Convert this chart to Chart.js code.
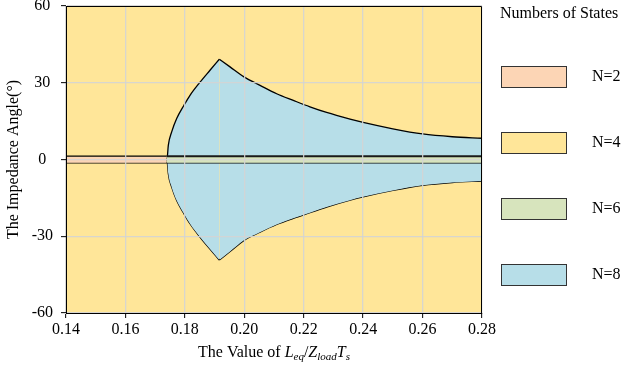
<!DOCTYPE html>
<html><head><meta charset="utf-8">
<script src="https://cdn.jsdelivr.net/npm/chart.js@4/dist/chart.umd.min.js"></script>
<style>html,body{margin:0;padding:0;background:#fff;}</style>
</head><body>
<canvas id="c" width="629" height="368"></canvas>
<script>
// ---- data ----
const xTicks = [0.14, 0.16, 0.18, 0.20, 0.22, 0.24, 0.26, 0.28];
const yTicks = [-60, -30, 0, 30, 60];
const stateLabels = ['N=2', 'N=4', 'N=6', 'N=8'];
const stateColors = ['#FCD5B5', '#FFE699', '#D7E4BD', '#B7DEE8'];
const legendTitle = 'Numbers of States';

// N=8 boundary, rising part (up to the cusp)
const n8RiseX     = [0.1739, 0.1741, 0.17443, 0.17557, 0.17725, 0.17971, 0.18173, 0.18487, 0.18846, 0.1916];
const n8RiseUpper = [0.0,    1.0,    5.5,     10.8,    16.0,    21.2,    25.1,    29.9,    34.9,    39.2];
const n8RiseLower = [0.0,   -1.0,   -5.5,    -10.8,   -16.0,   -21.2,   -25.1,   -30.0,   -35.0,   -39.3];
// N=8 boundary, decaying part (after the cusp)
const n8FallX     = [0.1916, 0.1952, 0.1999, 0.2053, 0.2109, 0.2165, 0.2221, 0.2277, 0.2356, 0.2400, 0.2500, 0.2600, 0.2700, 0.2800];
const n8FallUpper = [39.2,   36.2,   32.3,   29.0,   25.7,   23.1,   20.6,   18.4,   15.8,   14.5,   12.0,   10.0,   8.9,    8.3];
const n8FallLower = [-39.3, -36.0,  -31.6,  -28.4,  -25.4,  -23.0,  -20.8,  -18.6,  -15.9,  -14.6,  -12.1,  -10.1,  -9.0,   -8.4];

// thin strip around 0 deg: N=2 on the left, N=6 on the right
const n2X = [0.14, 0.1739];
const n6X = [0.1739, 0.28];
const stripTop = [1.3, 1.3];
const stripBottom = [-1.3, -1.3];

// N=4 fills the rest of the plane
const n4X = [0.14, 0.28];
const n4Top = [60, 60];

const xTitleParts = [
  {t: 'The Value of ', it: false, sub: false},
  {t: 'L', it: true, sub: false},
  {t: 'eq', it: true, sub: true},
  {t: '/', it: false, sub: false},
  {t: 'Z', it: true, sub: false},
  {t: 'load', it: true, sub: true},
  {t: 'T', it: true, sub: false},
  {t: 's', it: true, sub: true}
];

const FONT = "'Liberation Serif', 'Times New Roman', serif";
const pts = (xs, ys) => xs.map((x, i) => ({x: x, y: ys[i]}));

const overlay = {
  id: 'overlay',
  afterDraw(chart) {
    const {ctx, chartArea: a} = chart;
    ctx.save();
    ctx.strokeStyle = '#000';
    ctx.lineWidth = 1;
    ctx.beginPath();
    ctx.moveTo(a.left, a.top + 0.5);
    ctx.lineTo(a.right - 0.5, a.top + 0.5);
    ctx.lineTo(a.right - 0.5, a.bottom);
    ctx.stroke();

    const mainSize = 16, subSize = 11;
    const fontFor = p => (p.it ? 'italic ' : '') + (p.sub ? subSize : mainSize) + 'px ' + FONT;
    let total = 0;
    xTitleParts.forEach(p => { ctx.font = fontFor(p); total += ctx.measureText(p.t).width; });
    let x = (a.left + a.right) / 2 - total / 2;
    const baseY = 357;
    ctx.fillStyle = '#000';
    ctx.textBaseline = 'alphabetic';
    ctx.textAlign = 'left';
    xTitleParts.forEach(p => {
      ctx.font = fontFor(p);
      ctx.fillText(p.t, x, baseY + (p.sub ? 3 : 0));
      x += ctx.measureText(p.t).width;
    });

    ctx.font = '16px ' + FONT;
    ctx.textBaseline = 'middle';
    ctx.fillText(legendTitle, 500, 14);
    stateLabels.forEach((lab, i) => {
      const top = 66 + i * 66;
      ctx.fillStyle = stateColors[i];
      ctx.fillRect(501, top, 65, 21);
      ctx.strokeStyle = '#333';
      ctx.lineWidth = 1;
      ctx.strokeRect(501.5, top + 0.5, 65, 21);
      ctx.fillStyle = '#000';
      ctx.fillText(lab, 592, top + 11);
    });
    ctx.restore();
  }
};

const gridOpts = {z: 1, color: 'rgba(212,212,212,0.9)', lineWidth: 1.3, tickLength: 5, tickColor: '#000', tickWidth: 1};
const curve = {cubicInterpolationMode: 'monotone', borderColor: '#000', borderWidth: 1.3};

new Chart(document.getElementById('c'), {
  type: 'line',
  data: {
    datasets: [
      {label: 'N=6 top', data: pts(n6X, stripTop), fill: '+1', backgroundColor: stateColors[2], borderColor: '#1a1a1a', borderWidth: 2, order: 0},
      {label: 'N=6 bottom', data: pts(n6X, stripBottom), fill: false, borderColor: '#000', borderWidth: 1.2, order: 0},
      {label: 'N=2 top', data: pts(n2X, stripTop), fill: '+1', backgroundColor: stateColors[0], borderColor: '#000', borderWidth: 1.2, order: 0},
      {label: 'N=2 bottom', data: pts(n2X, stripBottom), fill: false, borderColor: '#000', borderWidth: 1.2, order: 0},
      Object.assign({label: 'N=8 rise upper', data: pts(n8RiseX, n8RiseUpper), fill: '+1', backgroundColor: stateColors[3], order: 1}, curve),
      Object.assign({label: 'N=8 rise lower', data: pts(n8RiseX, n8RiseLower), fill: false, order: 1}, curve),
      Object.assign({label: 'N=8 fall upper', data: pts(n8FallX, n8FallUpper), fill: '+1', backgroundColor: stateColors[3], order: 1}, curve),
      Object.assign({label: 'N=8 fall lower', data: pts(n8FallX, n8FallLower), fill: false, order: 1}, curve),
      {label: 'N=4', data: pts(n4X, n4Top), fill: {value: -60}, backgroundColor: stateColors[1], borderWidth: 0, borderColor: 'rgba(0,0,0,0)', order: 2}
    ]
  },
  options: {
    responsive: false,
    animation: false,
    devicePixelRatio: 1,
    layout: {padding: {top: 6, right: 147, left: 0, bottom: 0}},
    plugins: {legend: {display: false}, tooltip: {enabled: false}},
    elements: {point: {radius: 0, hoverRadius: 0}, line: {tension: 0}},
    scales: {
      x: {
        type: 'linear', min: 0.14, max: 0.28,
        afterBuildTicks: s => { s.ticks = xTicks.map(v => ({value: v})); },
        afterFit: s => { s.height = 55; s.paddingLeft = 0; s.paddingRight = 0; },
        grid: gridOpts,
        border: {color: '#000', width: 1, z: 2},
        ticks: {font: {family: FONT, size: 16}, color: '#000', padding: 2, maxRotation: 0, autoSkip: false,
                callback: v => Number(v).toFixed(2)}
      },
      y: {
        type: 'linear', min: -60, max: 60,
        afterBuildTicks: s => { s.ticks = yTicks.map(v => ({value: v})); },
        afterFit: s => { s.width = 66; s.paddingTop = 0; s.paddingBottom = 0; },
        grid: gridOpts,
        border: {color: '#000', width: 1, z: 2},
        ticks: {font: {family: FONT, size: 16}, color: '#000', padding: 8, crossAlign: 'center', autoSkip: false},
        title: {display: true, text: 'The Impedance Angle(°)', font: {family: FONT, size: 16}, color: '#000', padding: {top: 4, bottom: 0}}
      }
    }
  },
  plugins: [overlay]
});
</script>
</body></html>
